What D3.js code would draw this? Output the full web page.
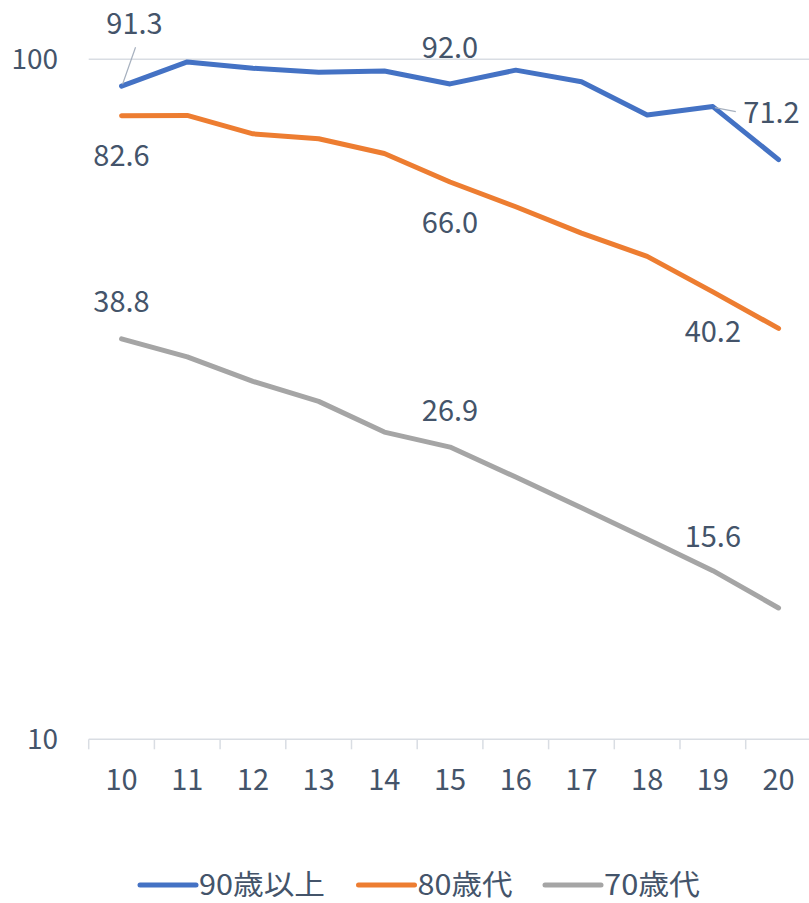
<!DOCTYPE html>
<html><head><meta charset="utf-8">
<script src="https://cdn.jsdelivr.net/npm/d3@7"></script>
<style>body{margin:0;background:#fff}svg{display:block}text{font-family:"Noto Sans CJK JP","Noto Sans",sans-serif;fill:#44546A}</style>
</head><body><svg id="c" width="809" height="903"></svg>
<script>
const categories = ["10","11","12","13","14","15","16","17","18","19","20"];
const seriesNames = ["90歳以上","80歳代","70歳代"];
const s90 = [91.3, 99.1, 97.0, 95.7, 96.1, 92.0, 96.4, 92.7, 82.8, 85.2, 71.2];
const s80 = [82.6, 82.7, 77.7, 76.4, 72.7, 66.0, 60.7, 55.5, 51.3, 45.5, 40.2];
const s70 = [38.8, 36.5, 33.6, 31.4, 28.3, 26.9, 24.3, 21.9, 19.7, 17.7, 15.6];
const yTicks = [10, 100];
const colors = ["#4472C4", "#ED7D31", "#A5A5A5"];
const labelIdx = [0, 5, 10];

const series = [s90, s80, s70];
const svg = d3.select("#c");
const x = d3.scaleBand().domain(categories).range([88.7, 811.4]);
const y = d3.scaleLog().domain([10, 100]).range([739.3, 59.3]);
const cx = c => x(c) + x.bandwidth() / 2;

// gridline at 100
svg.append("line").attr("x1", 88.7).attr("x2", 809).attr("y1", y(100)).attr("y2", y(100))
  .attr("stroke", "#D9DDE3").attr("stroke-width", 1.5);

// x axis
const xa = svg.append("g").attr("transform", `translate(0,${y(10)})`);
xa.append("line").attr("x1", 88.7).attr("x2", 809).attr("stroke", "#D9DDE3").attr("stroke-width", 1.5);
const bounds = categories.map(c => x(c));
xa.selectAll("line.t").data(bounds).join("line").attr("class", "t")
  .attr("x1", d => d).attr("x2", d => d).attr("y1", 0).attr("y2", 10)
  .attr("stroke", "#D9DDE3").attr("stroke-width", 1.5);
xa.selectAll("text").data(categories).join("text")
  .attr("x", d => cx(d)).attr("y", 51).attr("text-anchor", "middle")
  .attr("font-size", 29).text(d => d);

// y axis labels
svg.selectAll("text.yl").data(yTicks).join("text").attr("class", "yl")
  .attr("x", 58).attr("y", d => y(d)).attr("dy", "0.34em").attr("text-anchor", "end")
  .attr("font-size", 28).text(d => d);

// lines
const line = d3.line().x((d, i) => cx(categories[i])).y(d => y(d));
series.forEach((s, k) => {
  svg.append("path").datum(s).attr("d", line).attr("fill", "none")
    .attr("stroke", colors[k]).attr("stroke-width", 5)
    .attr("stroke-linejoin", "round").attr("stroke-linecap", "round");
});

// data labels (offsets relative to the point)
const labelOff = [
  [[13, -52], [0, -26], [-7, -37]],
  [[0, 50], [0, 51], [-65.7, 14]],
  [[0, -27], [0, -26], [-65.7, -61]]
];
series.forEach((s, k) => {
  labelIdx.forEach((i, j) => {
    const px = cx(categories[i]), py = y(s[i]);
    const [dx, dy] = labelOff[k][j];
    svg.append("text").attr("x", px + dx).attr("y", py + dy)
      .attr("text-anchor", "middle").attr("font-size", 29).text(s[i].toFixed(1));
  });
});
// leader lines
const p0x = cx(categories[0]), p0y = y(s90[0]);
svg.append("line").attr("x1", p0x + 1).attr("y1", p0y - 2).attr("x2", p0x + 14).attr("y2", p0y - 39)
  .attr("stroke", "#A6B0BE").attr("stroke-width", 1.2);
const p9x = cx(categories[9]), p9y = y(s90[9]);
svg.append("line").attr("x1", p9x + 2).attr("y1", p9y + 1).attr("x2", p9x + 23).attr("y2", p9y + 5)
  .attr("stroke", "#A6B0BE").attr("stroke-width", 1.2);

// legend
const legX = [140, 358.5, 545];
const legW = [126, 95, 96];
const lg = svg.append("g");
seriesNames.forEach((n, k) => {
  lg.append("line").attr("x1", legX[k]).attr("x2", legX[k] + 56).attr("y1", 885).attr("y2", 885)
    .attr("stroke", colors[k]).attr("stroke-width", 5).attr("stroke-linecap", "round");
  lg.append("text").attr("x", legX[k] + 59).attr("y", 885).attr("dy", "0.36em")
    .attr("font-size", 28).attr("textLength", legW[k]).attr("lengthAdjust", "spacingAndGlyphs").text(n);
});
</script></body></html>
